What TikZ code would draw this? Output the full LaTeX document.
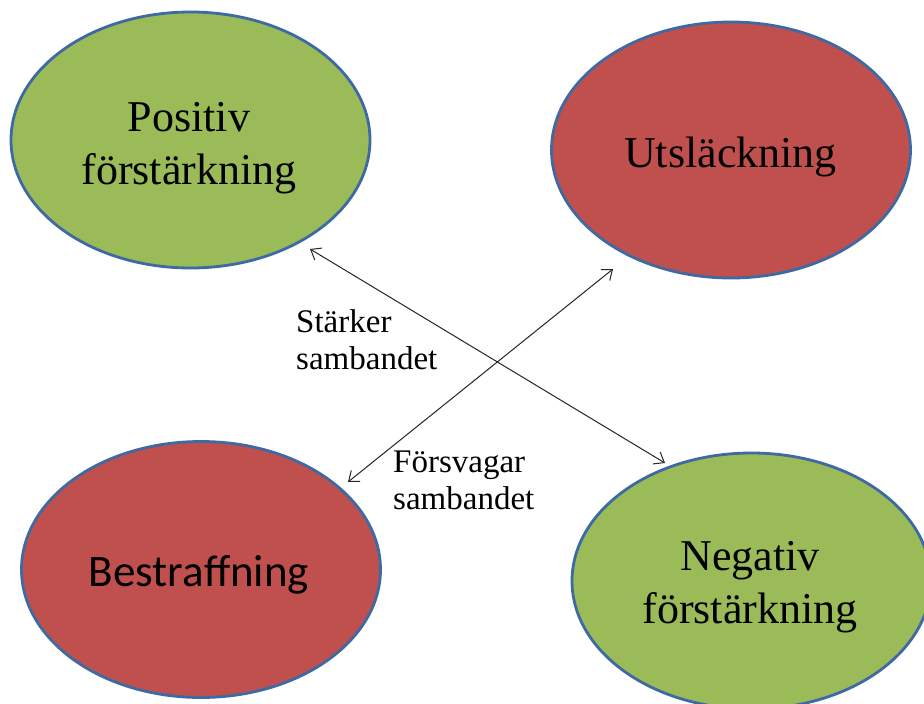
\documentclass[tikz,border=0pt]{standalone}
\usepackage{fontspec}
\setmainfont{Liberation Serif}
\newfontfamily\calib{Carlito}
\usetikzlibrary{shapes.geometric,arrows.meta}
\definecolor{offgreen}{HTML}{9BBB59}
\definecolor{offred}{HTML}{C0504D}
\definecolor{offblue}{HTML}{3E69A2}
\tikzset{
  oval/.style={ellipse, draw=offblue, line width=2.8pt, minimum width=359pt, minimum height=256pt, inner sep=0pt},
  bigtext/.style={align=center, inner sep=0pt, font=\fontsize{44}{53}\selectfont},
  smalltext/.style={align=left, inner sep=0pt, anchor=west, font=\fontsize{33}{37}\selectfont},
  link/.style={draw=black!85, line width=1pt, {Straight Barb[length=9pt,width=14pt]}-{Straight Barb[length=9pt,width=14pt]}}
}
\begin{document}
\begin{tikzpicture}[x=1pt,y=-1pt]
\useasboundingbox (0,0) rectangle (924,704);
\clip (0,0) rectangle (924,704);
\fill[white] (0,0) rectangle (924,704);
\node[oval, fill=offgreen] (pos) at (190.5,140) {};
\node[oval, fill=offred] (utl) at (731,150) {};
\node[oval, fill=offred] (bes) at (201,569.5) {};
\node[oval, fill=offgreen] (neg) at (751.5,581) {};
\node[bigtext] (posT) at (189,148) {Positiv\\förstärkning};
\node[bigtext] (utlT) at (730.5,157) {Utsläckning};
\node[bigtext, font=\calib\fontsize{45}{53}\selectfont] (besT) at (199,575) {Bestraffning};
\node[bigtext] (negT) at (750,587) {Negativ\\förstärkning};
\coordinate (a1s) at (310,249);
\coordinate (a1e) at (665,463);
\coordinate (a2s) at (613,269);
\coordinate (a2e) at (348,482);
\draw[link] (a1s) -- (a1e);
\draw[link] (a2s) -- (a2e);
\node[smalltext] (lab1) at (296,340) {Stärker\\sambandet};
\node[smalltext] (lab2) at (393,480) {Försvagar\\sambandet};
\end{tikzpicture}
\end{document}
